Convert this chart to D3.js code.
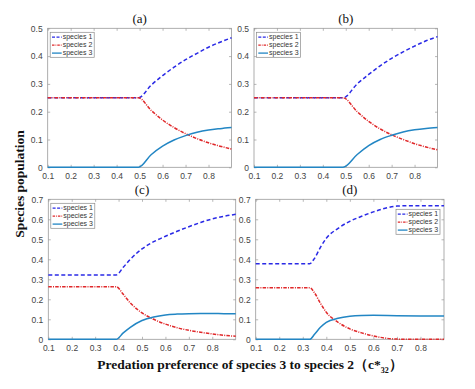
<!DOCTYPE html>
<html><head><meta charset="utf-8">
<script src="https://cdn.jsdelivr.net/npm/d3@7"></script>
<style>
body{margin:0;background:#fff;}
svg{display:block;}
</style></head>
<body>
<svg id="chart" width="475" height="389"></svg>
<script>
// ---------- data ----------
const seriesNames = ["species 1", "species 2", "species 3"];
const panelTitles = ["(a)", "(b)", "(c)", "(d)"];
const xTicks = [0.1, 0.2, 0.3, 0.4, 0.5, 0.6, 0.7, 0.8];
const yTicksAB = [0, 0.1, 0.2, 0.3, 0.4, 0.5];
const yTicksCD = [0, 0.1, 0.2, 0.3, 0.4, 0.5, 0.6, 0.7];

// panel (a)
const a_s1 = [[0.1,0.25],[0.495,0.25],[0.55,0.295],[0.6,0.33],[0.65,0.36],[0.7,0.387],[0.75,0.41],[0.8,0.432],[0.85,0.45],[0.9,0.466]];
const a_s2 = [[0.1,0.25],[0.495,0.25],[0.55,0.205],[0.6,0.17],[0.65,0.143],[0.7,0.121],[0.75,0.103],[0.8,0.088],[0.85,0.076],[0.9,0.066]];
const a_s3 = [[0.1,0],[0.495,0],[0.55,0.045],[0.6,0.076],[0.65,0.098],[0.7,0.114],[0.75,0.126],[0.8,0.134],[0.85,0.139],[0.9,0.143]];
// panel (b)
const b_s1 = [[0.1,0.25],[0.488,0.25],[0.55,0.3],[0.6,0.334],[0.65,0.365],[0.7,0.392],[0.75,0.415],[0.8,0.436],[0.85,0.455],[0.9,0.47]];
const b_s2 = [[0.1,0.25],[0.488,0.25],[0.55,0.2],[0.6,0.165],[0.65,0.138],[0.7,0.117],[0.75,0.1],[0.8,0.085],[0.85,0.073],[0.9,0.063]];
const b_s3 = [[0.1,0],[0.488,0],[0.55,0.046],[0.6,0.078],[0.65,0.1],[0.7,0.115],[0.75,0.127],[0.8,0.135],[0.85,0.14],[0.9,0.143]];
// panel (c)
const c_s1 = [[0.1,0.322],[0.39,0.322],[0.42,0.36],[0.45,0.4],[0.5,0.452],[0.55,0.488],[0.6,0.515],[0.65,0.54],[0.7,0.563],[0.75,0.584],[0.8,0.602],[0.85,0.615],[0.9,0.625]];
const c_s2 = [[0.1,0.263],[0.39,0.263],[0.42,0.225],[0.45,0.182],[0.5,0.132],[0.55,0.1],[0.6,0.076],[0.65,0.058],[0.7,0.045],[0.75,0.035],[0.8,0.027],[0.85,0.02],[0.9,0.015]];
const c_s3 = [[0.1,0],[0.39,0],[0.42,0.032],[0.45,0.06],[0.5,0.094],[0.55,0.112],[0.6,0.122],[0.65,0.126],[0.7,0.128],[0.75,0.129],[0.8,0.129],[0.85,0.128],[0.9,0.128]];
// panel (d)
const d_s1 = [[0.1,0.378],[0.33,0.378],[0.35,0.405],[0.375,0.46],[0.4,0.505],[0.45,0.555],[0.5,0.59],[0.55,0.615],[0.6,0.637],[0.65,0.655],[0.7,0.666],[0.75,0.668],[0.9,0.668]];
const d_s2 = [[0.1,0.258],[0.33,0.258],[0.35,0.232],[0.375,0.18],[0.4,0.135],[0.45,0.085],[0.5,0.052],[0.55,0.032],[0.6,0.017],[0.65,0.006],[0.7,0.001],[0.75,0],[0.9,0]];
const d_s3 = [[0.1,0],[0.33,0],[0.35,0.025],[0.375,0.06],[0.4,0.085],[0.45,0.105],[0.5,0.115],[0.55,0.119],[0.6,0.12],[0.7,0.118],[0.8,0.117],[0.9,0.117]];

const panelData = [[a_s1,a_s2,a_s3],[b_s1,b_s2,b_s3],[c_s1,c_s2,c_s3],[d_s1,d_s2,d_s3]];
const panelYTicks = [yTicksAB, yTicksAB, yTicksCD, yTicksCD];

// ---------- layout / style ----------
const layout = [
  {l:47.7, r:231.5, t:28.3, b:167.3, legend:"tl"},
  {l:254,  r:437.5, t:28.3, b:167.3, legend:"tl"},
  {l:48.3, r:235.7, t:199.3, b:339.3, legend:"tl"},
  {l:255.7,r:444,   t:199.3, b:339.3, legend:"tr"}
];
const colors = ["#2a2ae6", "#e0282a", "#2286c4"];
const dashes = ["4,2.5", "3.5,1.2,1,1.2", null];

const svg = d3.select("#chart");

layout.forEach((L, i) => {
  const yT = panelYTicks[i];
  const x = d3.scaleLinear().domain([0.1, 0.9]).range([L.l, L.r]);
  const y = d3.scaleLinear().domain([0, yT[yT.length-1]]).range([L.b, L.t]);
  const g = svg.append("g");

  // box
  g.append("rect").attr("x", L.l).attr("y", L.t).attr("width", L.r-L.l).attr("height", L.b-L.t)
    .attr("fill", "#fff").attr("stroke", "#9a9a9a").attr("stroke-width", 0.8);

  // axes with inward ticks
  const axStyle = sel => {
    sel.select(".domain").remove();
    sel.selectAll("line").attr("stroke", "#9a9a9a").attr("stroke-width", 0.7);
    sel.selectAll("text").attr("font-family", "Liberation Sans, Arial, sans-serif")
      .attr("font-size", "8.5px").attr("fill", "#444");
  };
  const fmt = d => d === 0 ? "0" : d3.format(".1f")(d);
  g.append("g").attr("transform", `translate(0,${L.b})`)
    .call(d3.axisBottom(x).tickValues(xTicks).tickFormat(fmt).tickSizeInner(-2.5).tickPadding(6))
    .call(axStyle);
  g.append("g").attr("transform", `translate(0,${L.t})`)
    .call(d3.axisTop(x).tickValues(xTicks).tickFormat("").tickSizeInner(-2.5))
    .call(axStyle);
  g.append("g").attr("transform", `translate(${L.l},0)`)
    .call(d3.axisLeft(y).tickValues(yT).tickFormat(fmt).tickSizeInner(-2.5).tickPadding(5))
    .call(axStyle);
  g.append("g").attr("transform", `translate(${L.r},0)`)
    .call(d3.axisRight(y).tickValues(yT).tickFormat("").tickSizeInner(-2.5))
    .call(axStyle);

  // lines
  const line = d3.line().x(d => x(d[0])).y(d => y(d[1])).curve(d3.curveMonotoneX);
  panelData[i].forEach((s, k) => {
    g.append("path").datum(s).attr("d", line).attr("fill", "none")
      .attr("stroke", colors[k]).attr("stroke-width", 1.5)
      .attr("stroke-dasharray", dashes[k]);
  });

  // title
  svg.append("text").attr("x", (L.l+L.r)/2).attr("y", L.t-5.5).attr("text-anchor", "middle")
    .attr("font-family", "Liberation Serif, Times New Roman, serif").attr("font-size", "13px")
    .attr("fill", "#111").text(panelTitles[i]);

  // legend
  const lw = 44, lh = 25;
  const lx = L.legend === "tl" ? L.l + 2.5 : L.r - lw - 4;
  const ly = L.legend === "tl" ? L.t + 4 : L.t + 10;
  const lg = g.append("g").attr("transform", `translate(${lx},${ly})`);
  lg.append("rect").attr("width", lw).attr("height", lh).attr("fill", "#fff")
    .attr("stroke", "#8a8a8a").attr("stroke-width", 0.7);
  seriesNames.forEach((n, k) => {
    const yy = 4.8 + k*8;
    lg.append("line").attr("x1", 1.8).attr("x2", 11.5).attr("y1", yy).attr("y2", yy)
      .attr("stroke", colors[k]).attr("stroke-width", 1.3).attr("stroke-dasharray", dashes[k] ? (k===0?"3,1.5":"2.5,1,0.8,1") : null);
    lg.append("text").attr("x", 12.5).attr("y", yy + 2.4)
      .attr("font-family", "Liberation Sans, Arial, sans-serif").attr("font-size", "7px")
      .attr("fill", "#333").text(n);
  });
});

// axis labels
svg.append("text").attr("transform", "translate(24,184) rotate(-90)").attr("text-anchor", "middle")
  .attr("font-family", "Liberation Serif, Times New Roman, serif").attr("font-weight", "bold")
  .attr("font-size", "13.5px").attr("fill", "#111").text("Species population");

const xl = svg.append("text").attr("x", 250).attr("y", 369).attr("text-anchor", "middle")
  .attr("font-family", "Liberation Serif, Times New Roman, serif").attr("font-weight", "bold")
  .attr("font-size", "13.5px").attr("fill", "#111");
xl.append("tspan").text("Predation preference of species 3 to species 2（c*");
xl.append("tspan").attr("font-size", "8px").attr("dy", 4).text("32");
xl.append("tspan").attr("dy", -4).text("）");
</script>
</body></html>
